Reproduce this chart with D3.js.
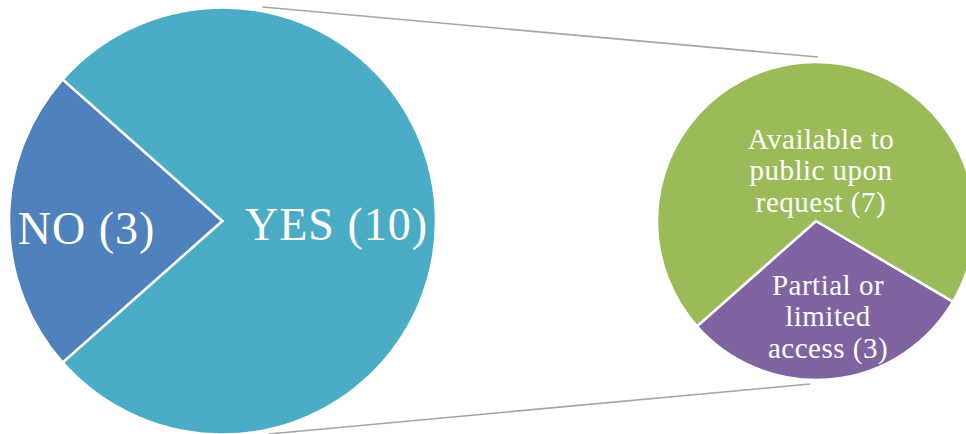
<!DOCTYPE html>
<html>
<head>
<meta charset="utf-8">
<script src="https://cdn.jsdelivr.net/npm/d3@7"></script>
<style>
  html, body { margin: 0; padding: 0; background: #fff; }
  svg { display: block; }
</style>
</head>
<body>
<svg id="chart" width="966" height="434"></svg>
<script>
// Main pie: does the source publish its data?
const mainCategories = ["NO", "YES"];
const mainValues = [3, 10];
const mainColors = ["#4F81BD", "#4BACC6"];

// Secondary pie: breakdown of the "YES" answers
const subCategories = ["Partial or limited access", "Available to public upon request"];
const subValues = [3, 7];
const subColors = ["#8064A2", "#9BBB59"];
const subLabelLines = [["Partial or", "limited", "access (3)"], ["Available to", "public upon", "request (7)"]];

const W = 966, H = 434;
const FONT = "'Liberation Serif', 'Times New Roman', 'DejaVu Serif', serif";
const svg = d3.select("#chart");
const deg = Math.PI / 180;

// Geometry of the two pies
const main = { cx: 222.5, cy: 221, r: 213.5 };
const sub = { cx: 816, cy: 221, r: 159 };

// The NO wedge is centred on the left (270°)
const mainSpan = 360 * mainValues[0] / d3.sum(mainValues);
const mainStart = (270 - mainSpan / 2) * deg;
const mainPie = d3.pie().sort(null).value(d => d)
  .startAngle(mainStart).endAngle(mainStart + 2 * Math.PI);

// The partial-access wedge sits at the bottom of the secondary pie
const subSpan = 360 * subValues[0] / d3.sum(subValues);
const subStart = (174.5 - subSpan / 2) * deg;
const subPie = d3.pie().sort(null).value(d => d)
  .startAngle(subStart).endAngle(subStart + 2 * Math.PI);

// Connector lines between the pies (drawn underneath)
const connectors = [
  [[main.cx + 40, 7], [sub.cx + 2, sub.cy - sub.r - 5]],
  [[main.cx + 46, 434], [sub.cx - 6, sub.cy + sub.r + 4]]
];
svg.append("g").selectAll("line").data(connectors).join("line")
  .attr("x1", d => d[0][0]).attr("y1", d => d[0][1])
  .attr("x2", d => d[1][0]).attr("y2", d => d[1][1])
  .attr("stroke", "#a5a5a5").attr("stroke-width", 1.6);

// Main pie
const mainArc = d3.arc().innerRadius(0).outerRadius(main.r);
const gMain = svg.append("g").attr("transform", `translate(${main.cx},${main.cy})`);
gMain.selectAll("path").data(mainPie(mainValues)).join("path")
  .attr("d", mainArc)
  .attr("fill", (d, i) => mainColors[i])
  .attr("stroke", "#fff").attr("stroke-width", 2.5).attr("stroke-linejoin", "miter");

// Main labels placed along each wedge's bisector
const mainLabelRadius = [136, 114];
gMain.selectAll("text").data(mainPie(mainValues)).join("text")
  .attr("transform", (d, i) => {
    const a = (d.startAngle + d.endAngle) / 2;
    const rr = mainLabelRadius[i];
    return `translate(${Math.sin(a) * rr},${-Math.cos(a) * rr})`;
  })
  .attr("text-anchor", "middle")
  .attr("dy", (d, i) => i === 0 ? 23 : 19)
  .attr("font-family", FONT)
  .attr("fill", "#fff")
  .attr("font-size", 46)
  .attr("letter-spacing", 1)
  .text((d, i) => `${mainCategories[i]} (${mainValues[i]})`);

// Secondary pie
const subArc = d3.arc().innerRadius(0).outerRadius(sub.r);
const gSub = svg.append("g").attr("transform", `translate(${sub.cx},${sub.cy})`);
gSub.selectAll("path").data(subPie(subValues)).join("path")
  .attr("d", subArc)
  .attr("fill", (d, i) => subColors[i])
  .attr("stroke", "#fff").attr("stroke-width", 2.5).attr("stroke-linejoin", "miter");

// Secondary labels: three lines each, centred in their wedge
const subLabelPos = [[12, 95], [5, -51]];
const lineGap = 31.5;
gSub.selectAll("text").data(subPie(subValues)).join("text")
  .attr("text-anchor", "middle")
  .attr("font-family", FONT)
  .attr("fill", "#fff")
  .attr("font-size", 29)
  .attr("letter-spacing", 0.5)
  .attr("transform", (d, i) => `translate(${subLabelPos[i][0]},${subLabelPos[i][1]})`)
  .each(function (d, i) {
    const lines = subLabelLines[i];
    d3.select(this).selectAll("tspan").data(lines).join("tspan")
      .attr("x", 0)
      .attr("y", (l, j) => (j - (lines.length - 1) / 2) * lineGap + 10)
      .text(l => l);
  });
</script>
</body>
</html>
